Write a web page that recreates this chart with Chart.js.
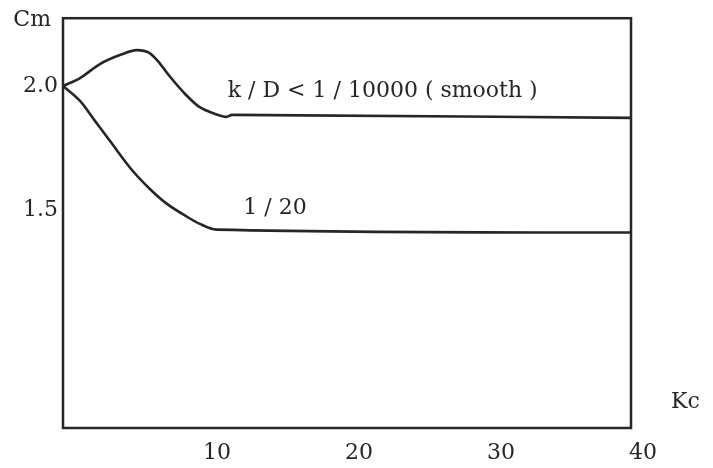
<!DOCTYPE html>
<html>
<head>
<meta charset="utf-8">
<title>Cm vs Kc</title>
<script src="https://cdn.jsdelivr.net/npm/chart.js@4.4.1/dist/chart.umd.min.js"></script>
<style>
  html, body { margin: 0; padding: 0; background: #fff; }
  #wrap { width: 713px; height: 468px; }
</style>
</head>
<body>
<div id="wrap"><canvas id="chart" width="713" height="468"></canvas></div>
<script>
// values
const smoothKc = [0, 1.2, 2.6, 4.0, 5.2, 6.1, 6.8, 7.5, 8.6, 9.6, 10.7, 11.5, 11.9, 40];
const smoothCm = [2.0, 2.032, 2.088, 2.124, 2.144, 2.132, 2.092, 2.04, 1.968, 1.916, 1.888, 1.876, 1.884, 1.872];
const roughKc = [0, 1.2, 2.25, 3.3, 4.9, 6.1, 7.3, 8.6, 9.6, 10.8, 40];
const roughCm = [2.0, 1.94, 1.86, 1.78, 1.66, 1.588, 1.528, 1.48, 1.448, 1.424, 1.412];
const xTicks = [10, 20, 30, 40];
const yTicks = [1.5, 2.0];
const seriesLabels = ['k / D < 1 / 10000 ( smooth )', '1 / 20'];

const ink = '#262626';
const serif = '"DejaVu Serif", "Liberation Serif", serif';
const textSize = 22;

const toPoints = (xs, ys) => xs.map((x, i) => ({ x: x, y: ys[i] }));

const canvas = document.getElementById('chart');

// box around the plot, axis names and curve labels
const figureText = {
  id: 'figureText',
  afterDraw(chart) {
    const { ctx, chartArea: a, scales } = chart;
    ctx.save();
    ctx.strokeStyle = ink;
    ctx.lineWidth = 2.5;
    ctx.strokeRect(a.left, a.top, a.right - a.left, a.bottom - a.top);

    ctx.fillStyle = ink;
    ctx.font = textSize + 'px ' + serif;
    ctx.textBaseline = 'middle';
    ctx.textAlign = 'right';
    ctx.fillText('Cm', a.left - 12, a.top + 2);
    ctx.textAlign = 'left';
    ctx.fillText('Kc', a.right + 40, a.bottom - 26);

    ctx.fillText(seriesLabels[0], scales.x.getPixelForValue(11.6), scales.y.getPixelForValue(1.98));
    ctx.fillText(seriesLabels[1], scales.x.getPixelForValue(12.7), scales.y.getPixelForValue(1.51));
    ctx.restore();
  }
};

const lineStyle = {
  borderColor: ink,
  borderWidth: 2.6,
  pointRadius: 0,
  fill: false,
  cubicInterpolationMode: 'monotone'
};

new Chart(canvas, {
  type: 'line',
  data: {
    datasets: [
      Object.assign({ label: seriesLabels[0], data: toPoints(smoothKc, smoothCm) }, lineStyle),
      Object.assign({ label: seriesLabels[1], data: toPoints(roughKc, roughCm) }, lineStyle)
    ]
  },
  options: {
    responsive: false,
    animation: false,
    layout: { padding: { top: 17, right: 82, bottom: 0, left: 0 } },
    plugins: { legend: { display: false }, tooltip: { enabled: false } },
    scales: {
      x: {
        type: 'linear',
        min: 0,
        max: 40,
        grid: { display: false, drawTicks: false },
        border: { display: false },
        afterBuildTicks: (scale) => { scale.ticks = xTicks.map(v => ({ value: v })); },
        afterFit: (scale) => { scale.height = 40; },
        ticks: {
          color: ink,
          padding: 12,
          labelOffset: 12,
          maxRotation: 0,
          font: { family: serif, size: textSize },
          callback: (v) => String(v)
        }
      },
      y: {
        type: 'linear',
        min: 0.628,
        max: 2.272,
        grid: { display: false, drawTicks: false },
        border: { display: false },
        afterBuildTicks: (scale) => { scale.ticks = yTicks.map(v => ({ value: v })); },
        afterFit: (scale) => { scale.width = 63; },
        ticks: {
          color: ink,
          padding: 5,
          font: { family: serif, size: textSize },
          callback: (v) => v.toFixed(1)
        }
      }
    }
  },
  plugins: [figureText]
});
</script>
</body>
</html>
